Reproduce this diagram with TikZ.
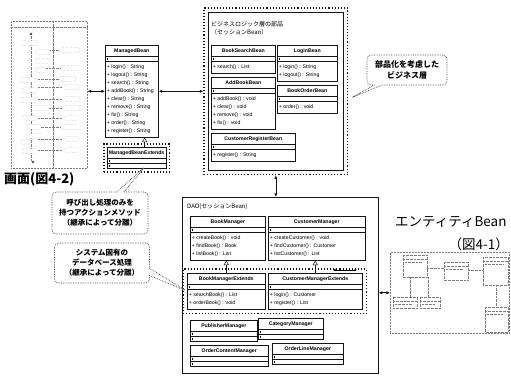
\documentclass[tikz,border=0pt]{standalone}
\usepackage{fontspec}
\setmainfont{Liberation Sans}
\newfontfamily\jp{Noto Sans CJK JP}
\usetikzlibrary{arrows.meta,positioning,fit,calc,shapes.multipart,shapes.callouts}
\definecolor{umledge}{RGB}{20,20,20}
\definecolor{thinedge}{RGB}{125,125,125}
% class name with a fixed strut, operation list as a tight column
\newcommand\clsname[1]{\rule[-2.2pt]{0pt}{7pt}\textbf{#1}}
\newcommand\ops[1]{\begin{tabular}{@{}l@{}}#1\end{tabular}}
\newcommand\blank{\rule{0.1pt}{1.5pt}}
\tikzset{
  cls/.style={
    rectangle split, rectangle split parts=3,
    rectangle split part align={center,left,left},
    draw=umledge, line width=0.6pt, fill=white, anchor=north west,
    inner sep=1.6pt, font=\fontsize{5.2}{8}\selectfont
  },
  pkg/.style={draw=umledge, line width=0.7pt, anchor=north west},
  grp/.style={draw=umledge, dotted, line width=1.1pt},
  thumb/.style={draw=thinedge, densely dotted, line width=0.5pt, anchor=north west},
  tiny/.style={draw=thinedge, densely dotted, line width=0.35pt},
  arr/.style={{Latex[length=3.6pt,width=3.2pt]}-{Latex[length=3.6pt,width=3.2pt]}, draw=umledge, line width=0.7pt},
  inh/.style={-{Triangle[open,length=4.5pt,width=5pt]}, draw=umledge, line width=0.5pt},
  note/.style={
    rectangle callout, draw=umledge!80, densely dotted, line width=0.7pt,
    rounded corners=4pt, fill=white, align=center, inner sep=2pt,
    font=\jp\bfseries\fontsize{7.5}{10}\selectfont
  },
  ttl/.style={font=\jp\fontsize{6}{8}\selectfont, align=left, inner sep=0pt, anchor=north west},
  big/.style={font=\jp\fontsize{13.5}{16}\selectfont, inner sep=0pt}
}

\begin{document}
\begin{tikzpicture}[x=1pt,y=-1pt]
  \useasboundingbox (0,0) rectangle (511,376);

  % screen flow (thumbnail)
  \node[thumb, minimum width=76pt, minimum height=147pt] (scr) at (11,21) {};
  \draw[tiny] (11,27) -- (87,27);
  \draw[tiny] (53,21) -- (53,168);
  \draw[tiny] (31,33) -- (31,160);
  \foreach \y in {50,68,79,87,99,108,118,127,139,150}
    \draw[tiny] (38,\y) -- (62,\y);
  \foreach \x/\y/\w in {30/43/16, 43/52/14, 43/61/14, 41/70/10, 28/80/16, 30/90/14,
      28/100/16, 41/108/14, 30/118/14, 34/127/14, 34/136/14, 26/142/10, 30/151/14,
      70/50/20, 70/68/18, 68/79/16, 72/87/14, 72/99/16, 72/108/16, 72/118/14,
      70/127/18, 72/139/14, 72/150/14}
    \draw[tiny, fill=white, rounded corners=0.8pt] (\x-\w/2,\y-2.3) rectangle (\x+\w/2,\y+2.3);
  \fill[black!70] (31,34) circle (1.4pt);
  \fill[black!70] (33,162) circle (1.4pt);
  \node[big, font=\jp\bfseries\fontsize{13}{16}\selectfont, anchor=west] (scrlbl) at (4,179) {画面(図4-2)};

  % managed beans
  \node[cls, minimum width=53pt] (mb) at (105,45) {\clsname{ManagedBean}\nodepart{second}\blank\nodepart{third}\ops{%
    + login() : String\\+ logout() : String\\+ search() : String\\+ addBook() : String\\%
    + clear() : String\\+ remove() : String\\+ fix() : String\\+ order() : String\\+ register() : String}};
  \node[cls, minimum width=58pt] (mbx) at (107,147) {\clsname{ManagedBeanExtends}\nodepart{second}\blank\nodepart{third}\blank};
  \node[grp, fit=(mbx), inner sep=3pt] (mbxgrp) {};

  % business layer
  \node[pkg, minimum width=135pt, minimum height=158pt] (bizin) at (208,12) {};
  \node[grp, fit=(bizin), inner sep=4pt] (bizout) {};
  \node[ttl] (biztitle) at (211,21) {ビジネスロジック層の部品\\（セッションBean）};
  \node[cls, minimum width=64pt] (bsb) at (211,45) {\clsname{BookSearchBean}\nodepart{second}\blank\nodepart{third}\ops{+ search() : List}};
  \node[cls, minimum width=64pt] (abb) at (211,77) {\clsname{AddBookBean}\nodepart{second}\blank\nodepart{third}\ops{%
    + addBook() : void\\+ clear() : void\\+ remove() : void\\+ fix() : void}};
  \node[cls, minimum width=60pt] (lgb) at (277,45) {\clsname{LoginBean}\nodepart{second}\blank\nodepart{third}\ops{%
    + login() : String\\+ logout() : String}};
  \node[cls, minimum width=60pt] (bob) at (277,85) {\clsname{BookOrderBean}\nodepart{second}\blank\nodepart{third}\ops{+ order() : void}};
  \node[cls, minimum width=84pt] (crb) at (211,133) {\clsname{CustomerRegisterBean}\nodepart{second}\blank\nodepart{third}\ops{+ register() : String}};

  % DAO layer
  \node[pkg, minimum width=196pt, minimum height=176pt] (dao) at (182,197) {};
  \node[ttl, anchor=west] (daotitle) at (187,207) {DAO(セッションBean)};
  \node[cls, minimum width=75pt] (bm) at (190,216) {\clsname{BookManager}\nodepart{second}\blank\nodepart{third}\ops{%
    + createBook() : void\\+ findBook() : Book\\+ listBook() : List}};
  \node[cls, minimum width=97pt] (cm) at (268,216) {\clsname{CustomerManager}\nodepart{second}\blank\nodepart{third}\ops{%
    + createCustomer() : void\\+ findCustomer() : Customer\\+ listCustomer() : List}};
  \node[cls, minimum width=78pt] (bmx) at (187,273) {\clsname{BookManagerExtends}\nodepart{second}\blank\nodepart{third}\ops{%
    + searchBook() : List\\+ orderBook() : void}};
  \node[cls, minimum width=94pt] (cmx) at (268,273) {\clsname{CustomerManagerExtends}\nodepart{second}\blank\nodepart{third}\ops{%
    + login() : Customer\\+ register() : List}};
  \node[grp, fit=(bmx)(cmx), inner sep=4pt] (daogrp) {};
  \node[cls, minimum width=67pt] (pm) at (190,320) {\clsname{PublisherManager}\nodepart{second}\blank\nodepart{third}\blank};
  \node[cls, minimum width=65pt] (catm) at (258,318) {\clsname{CategoryManager}\nodepart{second}\blank\nodepart{third}\blank};
  \node[cls, minimum width=78pt] (ocm) at (190,345) {\clsname{OrderContentManager}\nodepart{second}\blank\nodepart{third}\blank};
  \node[cls, minimum width=71pt] (olm) at (272,343) {\clsname{OrderLineManager}\nodepart{second}\blank\nodepart{third}\blank};
  \coordinate (mk1) at (333,270);
  \coordinate (mk2) at (357,270);
  \draw[{Latex[length=2.5pt,width=2.5pt]}-{Latex[length=2.5pt,width=2.5pt]}, line width=0.5pt] (mk1) -- (mk2);

  % entity beans (thumbnail)
  \node[big, anchor=west] (entlbl) at (395,222) {エンティティBean};
  \node[big, anchor=east] (entfig) at (509,244) {（図4-1）};
  \node[thumb, minimum width=119pt, minimum height=81pt] (ent) at (390,252) {};
  \foreach \x/\y/\w/\h in {403/255/24/22, 444/262/24/18, 483/257/25/28, 393/297/24/11, 420/297/20/11, 485/307/23/25} {
    \draw[tiny, fill=white] (\x,\y) rectangle (\x+\w,\y+\h);
    \draw[tiny] (\x,\y+4) -- (\x+\w,\y+4);
    \draw[tiny] (\x+2,\y+7) -- (\x+\w-5,\y+7);
  }
  \draw[tiny] (427,268) -- (444,268);
  \draw[tiny] (468,270) -- (483,270);
  \draw[tiny] (410,277) -- (410,297);
  \draw[tiny] (428,277) -- (428,297);
  \draw[tiny] (496,285) -- (496,307);

  % connectors
  \draw[arr] (mb.west) -- (mb.west -| scr.east);
  \draw[arr] (mb.east) -- (mb.east -| bizout.west);
  \draw[arr] (bizout.south) -- (bizout.south |- dao.north);
  \draw[arr] (ent.west) -- (ent.west -| dao.east);
  \draw[inh] ([xshift=8pt]mbx.north) -- ([xshift=8pt]mbx.north |- mb.south);
  \draw[inh] (bmx.north) -- (bmx.north |- bm.south);
  \draw[inh] (cmx.north) -- (cmx.north |- cm.south);

  % notes
  \node[note, minimum width=96pt, minimum height=42pt,
    callout absolute pointer={($(mbx.south)+(9,-3)$)}] (note1) at (100,213)
    {呼び出し処理のみを\\持つアクションメソッド\\（継承によって分離）};
  \node[note, minimum width=95pt, minimum height=40pt,
    callout absolute pointer={(bmx.west)}] (note2) at (102,263)
    {システム固有の\\データベース処理\\（継承によって分離）};
  \node[note, minimum width=80pt, minimum height=30pt, font=\jp\bfseries\fontsize{8}{11}\selectfont,
    callout absolute pointer={($(bizout.east)+(2,7)$)}] (note3) at (407,70)
    {部品化を考慮した\\ビジネス層};
\end{tikzpicture}
\end{document}
